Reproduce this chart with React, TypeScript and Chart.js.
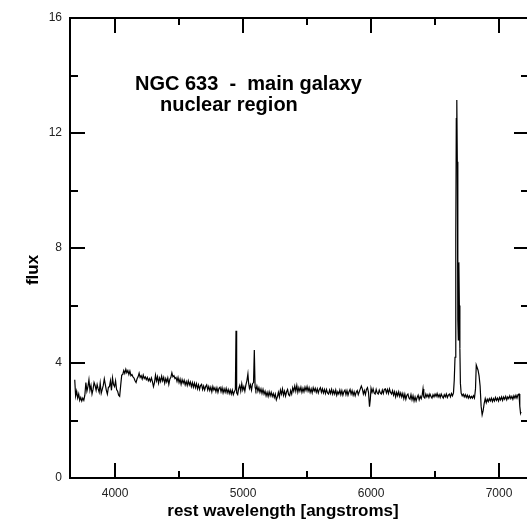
import React, { useEffect, useRef } from "react";
import { Chart, registerables } from "chart.js";

Chart.register(...registerables);

const wavelengths: number[] = [
  3685, 3692, 3700, 3708, 3716, 3724, 3732, 3740, 3748, 3756, 3764, 3772, 3780, 3788, 3796, 3804, 3812, 3820, 3828, 3836,
  3844, 3852, 3860, 3868, 3876, 3884, 3892, 3900, 3908, 3916, 3924, 3932, 3940, 3948, 3956, 3964, 3972, 3980, 3988, 3996,
  4004, 4012, 4020, 4028, 4036, 4044, 4052, 4060, 4068, 4076, 4084, 4092, 4100, 4108, 4116, 4124, 4132, 4140, 4148, 4156,
  4164, 4172, 4180, 4188, 4196, 4204, 4212, 4220, 4228, 4236, 4244, 4252, 4260, 4268, 4276, 4284, 4292, 4300, 4308, 4316,
  4324, 4332, 4340, 4348, 4356, 4364, 4372, 4380, 4388, 4396, 4404, 4412, 4420, 4428, 4436, 4444, 4452, 4460, 4468, 4476,
  4484, 4492, 4500, 4508, 4516, 4524, 4532, 4540, 4548, 4556, 4564, 4572, 4580, 4588, 4596, 4604, 4612, 4620, 4628, 4636,
  4644, 4652, 4660, 4668, 4676, 4684, 4692, 4700, 4708, 4716, 4724, 4732, 4740, 4748, 4756, 4764, 4772, 4780, 4788, 4796,
  4804, 4812, 4820, 4828, 4836, 4844, 4852, 4860, 4868, 4876, 4884, 4892, 4900, 4908, 4916, 4924, 4932, 4940, 4945, 4950,
  4958, 4966, 4974, 4982, 4990, 4998, 5006, 5014, 5022, 5030, 5038, 5044, 5050, 5058, 5066, 5074, 5082, 5088, 5094, 5100,
  5108, 5116, 5124, 5132, 5140, 5148, 5156, 5164, 5172, 5180, 5188, 5196, 5204, 5212, 5220, 5228, 5236, 5244, 5252, 5260,
  5268, 5276, 5284, 5292, 5300, 5308, 5316, 5324, 5332, 5340, 5348, 5356, 5364, 5372, 5380, 5388, 5396, 5404, 5412, 5420,
  5428, 5436, 5444, 5452, 5460, 5468, 5476, 5484, 5492, 5500, 5508, 5516, 5524, 5532, 5540, 5548, 5556, 5564, 5572, 5580,
  5588, 5596, 5604, 5612, 5620, 5628, 5636, 5644, 5652, 5660, 5668, 5676, 5684, 5692, 5700, 5708, 5716, 5724, 5732, 5740,
  5748, 5756, 5764, 5772, 5780, 5788, 5796, 5804, 5812, 5820, 5828, 5836, 5844, 5852, 5860, 5868, 5876, 5884, 5892, 5900,
  5908, 5916, 5924, 5932, 5940, 5948, 5956, 5964, 5972, 5980, 5988, 5994, 6000, 6008, 6016, 6024, 6032, 6040, 6048, 6056,
  6064, 6072, 6080, 6088, 6096, 6104, 6112, 6120, 6128, 6136, 6144, 6152, 6160, 6168, 6176, 6184, 6192, 6200, 6208, 6216,
  6224, 6232, 6240, 6248, 6256, 6264, 6272, 6280, 6288, 6296, 6304, 6312, 6320, 6328, 6336, 6344, 6352, 6360, 6368, 6376,
  6384, 6392, 6400, 6406, 6412, 6420, 6428, 6436, 6444, 6452, 6460, 6468, 6476, 6484, 6492, 6500, 6508, 6516, 6524, 6532,
  6540, 6548, 6556, 6564, 6572, 6580, 6588, 6596, 6604, 6612, 6620, 6628, 6636, 6644, 6650, 6656, 6662, 6666, 6670, 6674,
  6678, 6682, 6686, 6690, 6694, 6698, 6704, 6712, 6720, 6728, 6736, 6744, 6752, 6760, 6768, 6776, 6784, 6792, 6800, 6808,
  6816, 6822, 6828, 6836, 6844, 6852, 6860, 6868, 6876, 6884, 6892, 6900, 6908, 6916, 6924, 6932, 6940, 6948, 6956, 6964,
  6972, 6980, 6988, 6996, 7004, 7012, 7020, 7028, 7036, 7044, 7052, 7060, 7068, 7076, 7084, 7092, 7100, 7108, 7116, 7124,
  7132, 7140, 7148, 7156, 7162, 7168, 7172,
];

const flux: number[] = [
  3.42, 2.85, 3.02, 2.78, 2.92, 2.7, 2.8, 2.68, 2.78, 2.7, 2.88, 3.32, 3.02, 3.18, 3.42, 3.05, 3.22, 2.92, 3.08, 3.32,
  3.22, 3.05, 3.25, 3.1, 2.98, 3.3, 2.95, 3.08, 3.22, 3.45, 3.25, 3.05, 2.92, 3.15, 3.18, 3.38, 3.05, 3.48, 3.25, 3.18,
  3.38, 3.08, 3.02, 2.88, 2.84, 3.22, 3.58, 3.6, 3.74, 3.64, 3.78, 3.66, 3.74, 3.6, 3.72, 3.56, 3.6, 3.52, 3.48, 3.38,
  3.32, 3.45, 3.52, 3.65, 3.5, 3.56, 3.44, 3.58, 3.46, 3.52, 3.42, 3.5, 3.38, 3.46, 3.36, 3.48, 3.35, 3.18, 3.32, 3.58,
  3.38, 3.52, 3.3, 3.48, 3.36, 3.54, 3.38, 3.5, 3.3, 3.46, 3.34, 3.48, 3.26, 3.44, 3.5, 3.66, 3.52, 3.56, 3.46, 3.5,
  3.36, 3.5, 3.32, 3.44, 3.26, 3.42, 3.3, 3.4, 3.24, 3.36, 3.22, 3.38, 3.24, 3.34, 3.18, 3.32, 3.16, 3.3, 3.14, 3.28,
  3.1, 3.24, 3.08, 3.22, 3.26, 3.08, 3.2, 3.06, 3.18, 3.24, 3.06, 3.18, 3.04, 3.16, 3.0, 3.18, 3.06, 3.14, 3.0, 3.14,
  2.98, 3.12, 3.16, 3.0, 3.14, 2.96, 3.1, 2.98, 3.12, 2.96, 3.08, 2.94, 3.06, 2.92, 3.06, 2.9, 3.0, 3.08, 5.12, 2.96,
  2.9, 3.12, 3.22, 3.02, 3.28, 3.06, 3.18, 3.02, 3.24, 3.38, 3.62, 3.28, 3.12, 3.24, 3.06, 3.28, 3.32, 4.45, 3.16, 3.06,
  3.2, 3.02, 3.14, 2.98, 3.1, 2.94, 3.08, 2.92, 3.02, 2.86, 2.98, 2.84, 3.0, 2.86, 2.98, 2.84, 2.94, 2.8, 2.92, 2.72,
  2.82, 2.98, 2.82, 3.06, 2.92, 3.1, 2.88, 3.02, 2.85, 3.0, 3.08, 2.9, 2.86, 3.04, 2.92, 3.14, 3.02, 3.2, 3.02, 3.22,
  2.98, 3.14, 3.02, 3.16, 2.98, 3.12, 3.0, 3.16, 3.04, 3.18, 3.02, 3.14, 2.98, 3.1, 2.96, 3.14, 3.02, 3.12, 2.98, 3.1,
  2.96, 3.08, 3.14, 2.98, 3.1, 2.96, 3.08, 2.94, 3.08, 2.96, 2.92, 3.06, 2.94, 3.08, 2.92, 3.04, 2.92, 3.06, 2.88, 3.0,
  2.92, 3.06, 2.9, 3.04, 2.88, 3.0, 3.06, 2.9, 3.04, 2.88, 3.0, 3.08, 2.92, 3.04, 2.88, 3.0, 2.86, 2.98, 3.04, 2.9,
  3.0, 3.1, 3.2, 3.1, 2.92, 3.04, 2.9, 3.08, 3.14, 2.98, 2.48, 2.72, 3.12, 2.98, 3.1, 2.96, 2.92, 3.08, 2.96, 2.92,
  3.06, 2.96, 2.92, 3.06, 2.94, 3.08, 3.1, 2.96, 3.08, 2.94, 3.1, 2.98, 2.92, 3.04, 2.88, 3.0, 2.82, 2.98, 2.86, 3.0,
  2.84, 2.96, 2.82, 2.94, 2.76, 2.92, 2.74, 2.88, 2.92, 2.78, 2.74, 2.9, 2.72, 2.86, 2.68, 2.82, 2.68, 2.8, 2.88, 2.72,
  2.84, 2.76, 2.9, 3.1, 2.82, 2.78, 2.92, 2.82, 2.9, 2.8, 2.92, 2.84, 2.78, 2.9, 2.82, 2.92, 2.84, 2.94, 2.82, 2.9,
  2.8, 2.92, 2.84, 2.78, 2.9, 2.82, 2.92, 2.8, 2.88, 2.92, 2.82, 2.94, 2.86, 2.96, 3.4, 4.2, 8.5, 12.5, 13.15, 11.0,
  5.5, 4.8, 7.5, 6.0, 4.5, 3.3, 2.95, 2.86, 2.92, 2.82, 2.9, 2.8, 2.88, 2.78, 2.86, 2.78, 2.84, 2.78, 2.86, 2.78,
  3.1, 3.93, 3.85, 3.75, 3.55, 3.2, 2.5, 2.2, 2.35, 2.6, 2.76, 2.62, 2.74, 2.66, 2.76, 2.68, 2.78, 2.66, 2.76, 2.68,
  2.8, 2.7, 2.78, 2.68, 2.8, 2.72, 2.82, 2.7, 2.82, 2.74, 2.84, 2.72, 2.82, 2.76, 2.86, 2.76, 2.84, 2.74, 2.86, 2.78,
  2.88, 2.78, 2.9, 2.92, 2.5, 2.25, 2.3,
];

const xLabelTicks: number[] = [4000, 5000, 6000, 7000];
const xMinorTicks: number[] = [4000, 4500, 5000, 5500, 6000, 6500, 7000];
const yLabelTicks: number[] = [0, 4, 8, 12, 16];
const yMinorTicks: number[] = [0, 2, 4, 6, 8, 10, 12, 14, 16];

const titleLine1 = "NGC 633  -  main galaxy";
const titleLine2 = "nuclear region";
const xTitle = "rest wavelength [angstroms]";
const yTitle = "flux";

const FONT = "'Liberation Sans', Arial, Helvetica, sans-serif";

const framePlugin = {
  id: "frame",
  afterDraw(chart: any) {
    const { ctx, chartArea, scales } = chart;
    const { left, right, top, bottom } = chartArea;
    const x = scales.x;
    const y = scales.y;
    ctx.save();
    ctx.strokeStyle = "#000";
    ctx.lineWidth = 2;
    ctx.beginPath();
    ctx.moveTo(left - 1, top);
    ctx.lineTo(right, top);
    ctx.moveTo(right, top);
    ctx.lineTo(right, bottom);
    for (const v of xMinorTicks) {
      const px = Math.round(x.getPixelForValue(v));
      const len = xLabelTicks.includes(v) ? 15 : 7;
      ctx.moveTo(px, bottom);
      ctx.lineTo(px, bottom - len);
      ctx.moveTo(px, top);
      ctx.lineTo(px, top + len);
    }
    for (const v of yMinorTicks) {
      const py = Math.round(y.getPixelForValue(v));
      const len = yLabelTicks.includes(v) ? 15 : 8;
      ctx.moveTo(left, py);
      ctx.lineTo(left + len, py);
      ctx.moveTo(right, py);
      ctx.lineTo(right - len, py);
    }
    ctx.stroke();

    ctx.fillStyle = "#000";
    ctx.font = `bold 20px ${FONT}`;
    ctx.textAlign = "left";
    ctx.textBaseline = "alphabetic";
    ctx.fillText(titleLine1, 135, 90);
    ctx.fillText(titleLine2, 160, 111);

    ctx.font = `bold 17px ${FONT}`;
    ctx.textAlign = "center";
    ctx.textBaseline = "middle";
    ctx.fillText(xTitle, 283, 511);
    ctx.save();
    ctx.translate(33, 270);
    ctx.rotate(-Math.PI / 2);
    ctx.fillText(yTitle, 0, 0);
    ctx.restore();
    ctx.restore();
  },
};

export default function App() {
  const ref = useRef<HTMLCanvasElement>(null);
  useEffect(() => {
    if (!ref.current) return;
    const points = wavelengths.map((w, i) => ({ x: w, y: flux[i] }));
    const chart = new Chart(ref.current, {
      type: "line",
      data: {
        datasets: [
          {
            data: points,
            borderColor: "#000",
            borderWidth: 1.2,
            pointRadius: 0,
            tension: 0,
            fill: false,
          },
        ],
      },
      options: {
        animation: false,
        responsive: false,
        maintainAspectRatio: false,
        parsing: false as any,
        layout: { padding: { left: 0, top: 18, right: 6, bottom: 0 } },
        plugins: { legend: { display: false }, tooltip: { enabled: false }, title: { display: false } },
        scales: {
          x: {
            type: "linear",
            min: 3648,
            max: 7234,
            afterBuildTicks: (s: any) => {
              s.ticks = xLabelTicks.map((v) => ({ value: v }));
            },
            afterFit: (s: any) => {
              s.height = 44;
            },
            grid: { display: false, drawTicks: false },
            border: { display: true, color: "#000", width: 2 },
            ticks: {
              padding: 8,
              color: "#222",
              font: { family: FONT, size: 12 },
              maxRotation: 0,
              callback: (v: any) => String(v),
            },
          },
          y: {
            type: "linear",
            min: 0,
            max: 16,
            afterBuildTicks: (s: any) => {
              s.ticks = yLabelTicks.map((v) => ({ value: v }));
            },
            afterFit: (s: any) => {
              s.width = 70;
            },
            grid: { display: false, drawTicks: false },
            border: { display: true, color: "#000", width: 2 },
            ticks: {
              padding: 8,
              color: "#222",
              font: { family: FONT, size: 12 },
              callback: (v: any) => String(v),
            },
          },
        },
      },
      plugins: [framePlugin],
    });
    return () => chart.destroy();
  }, []);
  return (
    <div style={{ position: "fixed", left: 0, top: 0, width: 527, height: 522, overflow: "hidden", background: "#fff" }}>
      <canvas ref={ref} width={535} height={522} style={{ display: "block" }} />
    </div>
  );
}
